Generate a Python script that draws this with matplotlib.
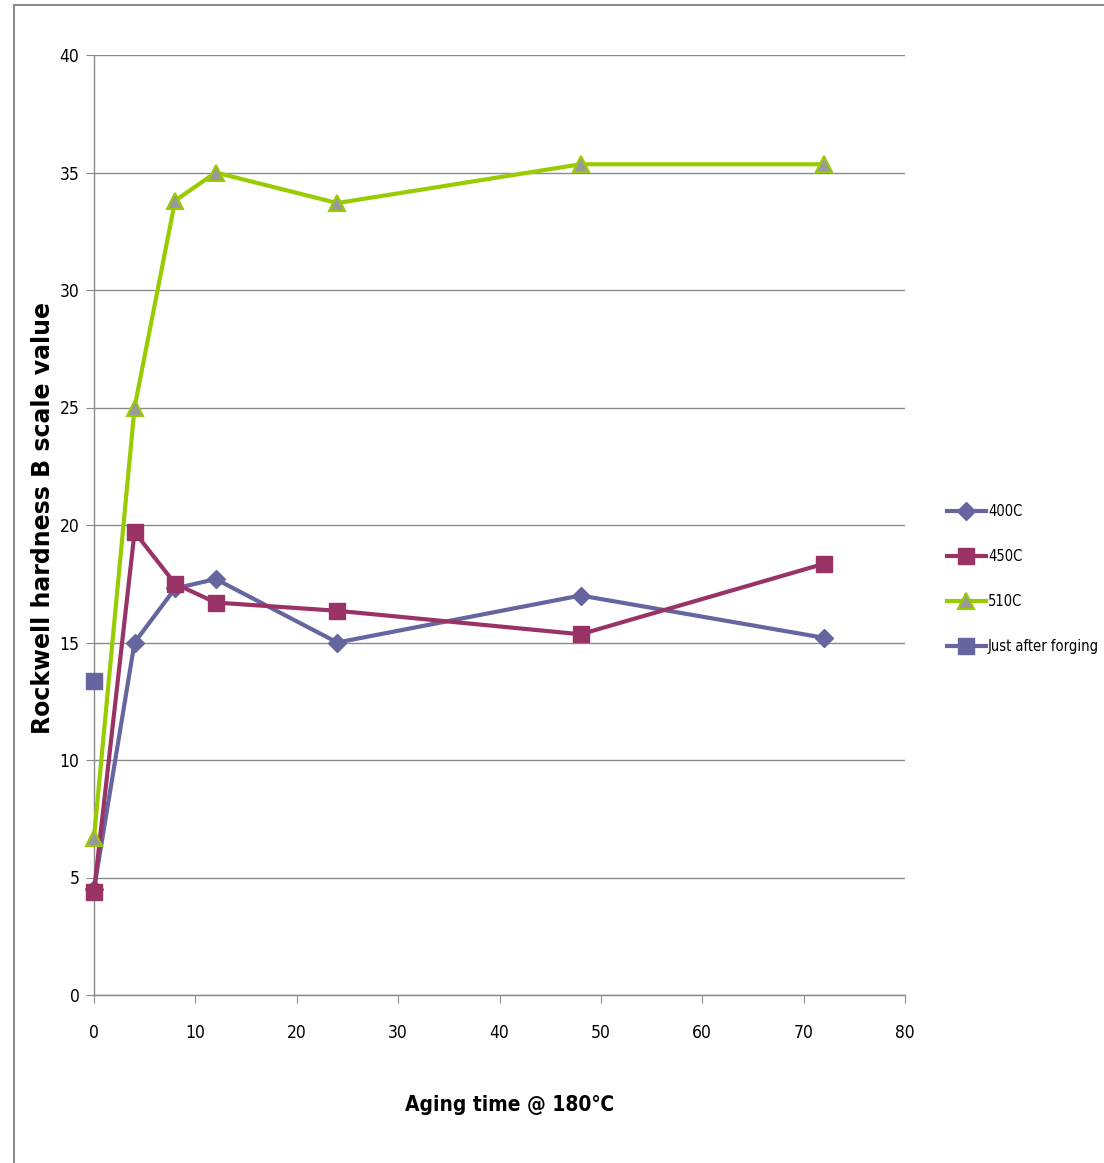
import matplotlib
matplotlib.use("Agg")
import matplotlib.pyplot as plt
from matplotlib.lines import Line2D

# ---- data ----
x_400 = [0, 4, 8, 12, 24, 48, 72]
y_400 = [4.5, 15.0, 17.3, 17.7, 15.0, 17.0, 15.2]
x_450 = [0, 4, 8, 12, 24, 48, 72]
y_450 = [4.4, 19.7, 17.5, 16.7, 16.35, 15.35, 18.35]
x_510 = [0, 4, 8, 12, 24, 48, 72]
y_510 = [6.7, 25.0, 33.8, 35.0, 33.7, 35.35, 35.35]
x_forge = [0]
y_forge = [13.35]
x_ticks = [0, 10, 20, 30, 40, 50, 60, 70, 80]
y_ticks = [0, 5, 10, 15, 20, 25, 30, 35, 40]
series_names = ["400C", "450C", "510C", "Just after forging"]

fam = ["DejaVu Sans"]
cond = dict(family=fam, stretch="condensed")

W, H = 1104, 1163
fig = plt.figure(figsize=(W / 100, H / 100), dpi=100)
fig.patch.set_facecolor("white")

# chart border (top and left visible)
fig.add_artist(Line2D([14 / W, 14 / W], [0, 1 - 5 / H], transform=fig.transFigure,
                      color="#8c8c8c", lw=1.5))
fig.add_artist(Line2D([14 / W, 1], [1 - 5 / H, 1 - 5 / H], transform=fig.transFigure,
                      color="#8c8c8c", lw=1.5))

x0, x1 = 94, 905
y_top, y_bot = 55, 995
ax = fig.add_axes([x0 / W, 1 - y_bot / H, (x1 - x0) / W, (y_bot - y_top) / H])
ax.set_xlim(0, 80)
ax.set_ylim(0, 40)
ax.set_xticks(x_ticks)
ax.set_yticks(y_ticks)
ax.yaxis.grid(True, color="#8a8a8a", lw=1.0)
ax.set_axisbelow(True)
for s in ["top", "right"]:
    ax.spines[s].set_visible(False)
for s in ["left", "bottom"]:
    ax.spines[s].set_color("#8a8a8a")
    ax.spines[s].set_linewidth(1.0)
ax.tick_params(axis="both", direction="out", length=6, color="#8a8a8a",
               labelsize=12.5)
ax.tick_params(axis="x", pad=15)
ax.tick_params(axis="y", pad=4.5)
for lbl in ax.get_xticklabels() + ax.get_yticklabels():
    lbl.set_family(fam)
    lbl.set_stretch("condensed")

c400 = "#65659f"
c450 = "#993366"
c510 = "#99cc00"

ax.plot(x_400, y_400, color=c400, lw=3, marker="D", ms=9, mfc=c400, mec=c400,
        label=series_names[0], clip_on=False, zorder=3)
ax.plot(x_450, y_450, color=c450, lw=3, marker="s", ms=11, mfc=c450, mec=c450,
        label=series_names[1], clip_on=False, zorder=4)
ax.plot(x_510, y_510, color=c510, lw=3, marker="^", ms=11, mfc="#999999", mec=c510,
        mew=1.5, label=series_names[2], clip_on=False, zorder=5)
ax.plot(x_forge, y_forge, color=c400, lw=3, marker="s", ms=11, mfc=c400, mec=c400,
        linestyle="none", label=series_names[3], clip_on=False, zorder=4)

leg = fig.legend(handles=[
    Line2D([], [], color=c400, lw=3, marker="D", ms=9, mfc=c400, mec=c400),
    Line2D([], [], color=c450, lw=3, marker="s", ms=11, mfc=c450, mec=c450),
    Line2D([], [], color=c510, lw=3, marker="^", ms=11, mfc="#999999", mec=c510, mew=1.5),
    Line2D([], [], color=c400, lw=3, marker="s", ms=11, mfc=c400, mec=c400),
], labels=series_names, loc="upper left", bbox_to_anchor=(947 / W, 1 - 504 / H),
    frameon=False, handlelength=2.65, handletextpad=0.15, labelspacing=2.05,
    borderaxespad=0, borderpad=0, prop={"family": fam, "stretch": "condensed", "size": 10.5})

fig.text(43 / W, 1 - 518 / H, "Rockwell hardness B scale value", rotation=90,
         ha="center", va="center", fontsize=17, fontweight="bold",
         family=fam)
fig.text(510 / W, 1 - 1105 / H, "Aging time @ 180\u2103", ha="center", va="center",
         fontsize=15, fontweight="bold", **cond)

fig.savefig("out.png", dpi=100, facecolor="white")
